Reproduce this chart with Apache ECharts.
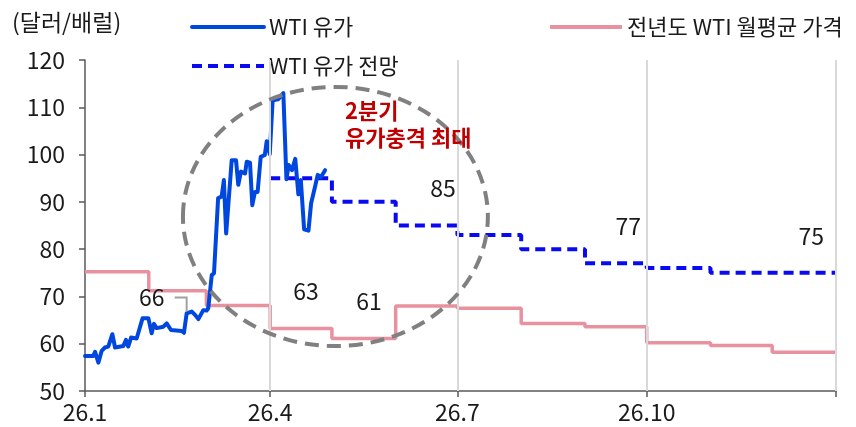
<!DOCTYPE html>
<html>
<head>
<meta charset="utf-8">
<script src="https://cdn.jsdelivr.net/npm/echarts@6/dist/echarts.min.js"></script>
<style>
  html, body { margin: 0; padding: 0; background: #ffffff; }
  #chart { width: 856px; height: 427px; }
</style>
</head>
<body>
<div id="chart"></div>
<script>
// x values are day offsets from 2026-01-01 (365 = 2027-01-01)
const monthStarts = [0, 31, 59, 90, 120, 151, 181, 212, 243, 273, 304, 334, 365];
const xTickDays = [0, 90, 181, 273, 365];
const xTickLabels = ['26.1', '26.4', '26.7', '26.10', ''];
const yTicks = [50, 60, 70, 80, 90, 100, 110, 120];

// WTI daily price, [day offset, $/bbl]
const wtiDaily = [
  [0, 57.4], [4.0, 57.4], [4.9, 58.3], [6.5, 56.0], [8.1, 58.5], [9.7, 59.2],
  [11.3, 59.4], [13.3, 62.0], [14.6, 59.2], [18.6, 59.5], [19.9, 60.8], [21.0, 59.4],
  [22.4, 61.3], [25.1, 61.1], [28.0, 65.4], [30.8, 65.4], [32.4, 62.2], [33.5, 64.2],
  [34.8, 63.3], [38.1, 63.6], [39.7, 64.3], [41.8, 62.9], [47.0, 62.7], [48.1, 62.3],
  [49.4, 66.4], [51.9, 66.8], [53.5, 66.1], [55.1, 65.2], [57.5, 67.1], [59.1, 67.0],
  [59.9, 67.5], [61.6, 74.5], [62.7, 74.9], [64.7, 90.8], [66.4, 91.1], [67.5, 94.6],
  [68.6, 83.3], [71.3, 98.8], [73.4, 98.8], [74.5, 93.6], [75.8, 96.4], [77.8, 96.0],
  [78.6, 98.5], [80.2, 98.3], [81.3, 89.3], [82.6, 92.1], [83.9, 92.1], [85.4, 99.5],
  [87.4, 99.9], [88.3, 102.8], [89.8, 100.1], [91.2, 111.5], [93.9, 111.7], [96.4, 113.0],
  [97.9, 94.8], [99.0, 97.8], [100.6, 96.7], [102.2, 99.1], [103.7, 91.6], [104.9, 94.6],
  [106.5, 84.2], [108.6, 83.9], [109.9, 89.7], [111.8, 93.2], [113.1, 95.7], [114.6, 95.2],
  [116.7, 96.7]
];

// WTI outlook, monthly (Apr–Dec 2026)
const forecastMonths = [3, 4, 5, 6, 7, 8, 9, 10, 11];
const forecastValues = [95, 90, 85, 83, 80, 77, 76, 75, 75];

// Previous-year WTI monthly average (Jan–Dec)
const prevYearValues = [75.2, 71.2, 68.1, 63.2, 61.1, 68.0, 67.5, 64.3, 63.6, 60.2, 59.6, 58.2];

const NAME_ACTUAL = 'WTI 유가';
const NAME_FORECAST = 'WTI 유가 전망';
const NAME_PREV = '전년도 WTI 월평균 가격';

// monthly step series: one point per month start plus a closing point
function monthlySteps(monthIdx, values) {
  const pts = monthIdx.map((m, i) => [monthStarts[m], values[i]]);
  pts.push([monthStarts[monthIdx[monthIdx.length - 1] + 1], values[values.length - 1]]);
  return pts;
}
const forecastData = monthlySteps(forecastMonths, forecastValues);
const prevData = monthlySteps(prevYearValues.map((_, i) => i), prevYearValues);

const FONT = '"Noto Sans CJK KR", "Noto Sans", sans-serif';
const TEXT = '#1a1a1a';
const AXIS = '#595959';

const chart = echarts.init(document.getElementById('chart'), null, { renderer: 'canvas' });

const legendBase = {
  orient: 'horizontal',
  itemWidth: 72,
  itemHeight: 14,
  itemGap: 0,
  padding: 0,
  textStyle: { fontFamily: FONT, fontSize: 22, color: TEXT, padding: [0, 0, 0, 0] },
  lineStyle: { width: 4 },
  itemStyle: { opacity: 0 },
  selectedMode: false
};

chart.setOption({
  animation: false,
  backgroundColor: '#ffffff',
  grid: { left: 85, right: 20, top: 60, bottom: 36, containLabel: false },
  legend: [
    Object.assign({}, legendBase, { data: [NAME_ACTUAL], left: 190, top: 16 }),
    Object.assign({}, legendBase, { data: [NAME_FORECAST], left: 190, top: 55 }),
    Object.assign({}, legendBase, { data: [NAME_PREV], left: 548, top: 16 })
  ],
  xAxis: {
    type: 'value',
    min: 0,
    max: 365,
    axisLine: { show: true, lineStyle: { color: AXIS, width: 1.5 } },
    axisTick: { show: true, length: 6, customValues: xTickDays, lineStyle: { color: AXIS, width: 1.5 } },
    axisLabel: {
      customValues: xTickDays.slice(0, 4),
      formatter: (v) => xTickLabels[xTickDays.indexOf(v)] || '',
      fontFamily: FONT, fontSize: 23, color: TEXT, margin: 10
    },
    splitLine: { show: false }
  },
  yAxis: {
    type: 'value',
    min: 50,
    max: 120,
    interval: 10,
    axisLine: { show: true, lineStyle: { color: AXIS, width: 1.5 } },
    axisTick: { show: true, length: 6, lineStyle: { color: AXIS, width: 1.5 } },
    axisLabel: { fontFamily: FONT, fontSize: 23, color: TEXT, margin: 20 },
    splitLine: { show: false }
  },
  series: [
    {
      // vertical quarter gridlines
      type: 'line',
      data: [],
      silent: true,
      z: 1,
      markLine: {
        silent: true,
        symbol: 'none',
        label: { show: false },
        lineStyle: { color: '#d9d9d9', width: 2, type: 'solid' },
        data: xTickDays.slice(1).map((d) => ({ xAxis: d }))
      }
    },
    {
      name: NAME_PREV,
      type: 'line',
      step: 'end',
      data: prevData,
      symbol: 'none',
      z: 2,
      color: '#E8919F',
      lineStyle: { color: '#E8919F', width: 3.5 }
    },
    {
      name: NAME_FORECAST,
      type: 'line',
      step: 'end',
      data: forecastData,
      symbol: 'none',
      z: 3,
      color: '#0A0AF0',
      lineStyle: { color: '#0A0AF0', width: 4, type: [10, 6] }
    },
    {
      name: NAME_ACTUAL,
      type: 'line',
      data: wtiDaily,
      symbol: 'none',
      z: 4,
      color: '#0047E0',
      lineStyle: { color: '#0047E0', width: 4, join: 'round', cap: 'round' }
    }
  ]
});

// annotations positioned from data coordinates
const px = (d, v) => chart.convertToPixel({ gridIndex: 0 }, [d, v]);
const graphics = [];

// unit label
graphics.push({
  type: 'text', left: 12, top: 11, z: 10,
  style: { text: '(달러/배럴)', font: '23px ' + FONT, fill: TEXT }
});

// highlight ellipse around the Q2 price shock
const eC = px(121.7, 86.9);
const eR = px(121.7 + 74.1, 86.9 - 27.4);
graphics.push({
  type: 'ellipse', z: 5, silent: true,
  shape: { cx: eC[0], cy: eC[1], rx: eR[0] - eC[0], ry: eR[1] - eC[1] },
  style: { fill: 'none', stroke: '#808080', lineWidth: 4, lineDash: [14, 8] }
});

// value labels 37px above their step segments
function valueLabel(d, v) {
  const p = px(d, v);
  graphics.push({
    type: 'text', z: 10,
    x: p[0], y: p[1] - 37,
    style: { text: String(Math.round(v)), font: '23px ' + FONT, fill: TEXT, align: 'center', verticalAlign: 'middle' }
  });
}
valueLabel(107.4, prevYearValues[3]);
valueLabel(138, prevYearValues[4]);
valueLabel(174, forecastValues[2]);
valueLabel(264, forecastValues[5]);
valueLabel(353, forecastValues[8]);

// label with leader line on the daily price just before the surge
const anchorPt = wtiDaily[24];
const a = px(anchorPt[0], anchorPt[1]);
graphics.push({
  type: 'polyline', z: 10, silent: true,
  shape: { points: [[a[0] - 12, a[1] - 16], [a[0], a[1] - 16], [a[0], a[1] - 2]] },
  style: { stroke: '#a0a0a0', lineWidth: 2, fill: 'none' }
});
graphics.push({
  type: 'text', z: 10,
  x: a[0] - 35, y: a[1] - 16,
  style: { text: String(Math.round(anchorPt[1])), font: '23px ' + FONT, fill: TEXT, align: 'center', verticalAlign: 'middle' }
});

// callout text
const c = px(126.4, 106.4);
graphics.push({
  type: 'text', z: 10, x: c[0], y: c[1],
  style: {
    text: '2분기\n유가충격 최대',
    font: 'bold 22px ' + FONT, fill: '#C00000',
    align: 'left', verticalAlign: 'middle', lineHeight: 27
  }
});

chart.setOption({ graphic: graphics });
</script>
</body>
</html>
